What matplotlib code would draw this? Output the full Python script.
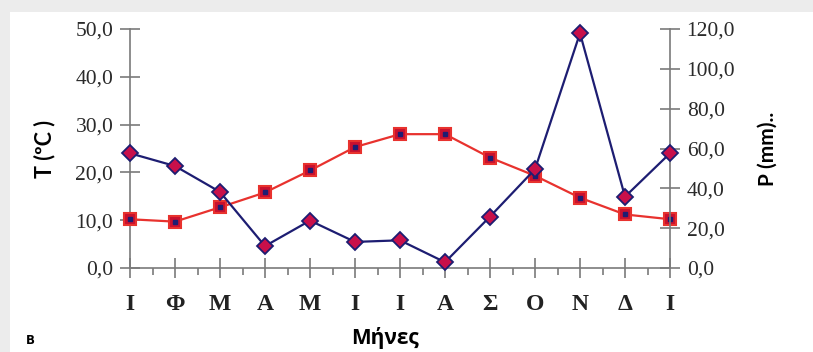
import matplotlib.pyplot as plt
from matplotlib.patches import Rectangle
import numpy as np

# monthly climate data (Jan..Dec, Jan again)
months = ['Ι', 'Φ', 'Μ', 'Α', 'Μ', 'Ι', 'Ι', 'Α', 'Σ', 'Ο', 'Ν', 'Δ', 'Ι']
temp = [10.2, 9.7, 12.7, 15.8, 20.4, 25.3, 28.0, 28.0, 23.1, 19.3, 14.7, 11.2, 10.2]
precip = [57.6, 51.2, 38.2, 11.0, 23.8, 13.1, 13.9, 2.9, 25.8, 49.6, 117.9, 35.8, 57.6]

W, H = 813, 352
fig = plt.figure(figsize=(W / 100, H / 100), dpi=100)
fig.patch.set_facecolor('#ececec')
fig.patches.append(Rectangle((10 / W, 0), 1, 1 - 12 / H, transform=fig.transFigure,
                             facecolor='white', edgecolor='none', zorder=-10))

ax = fig.add_axes([130 / W, 1 - 268 / H, 540 / W, 239 / H])
ax.set_facecolor('none')
ax2 = ax.twinx()

x = np.arange(len(months))
axis_col = '#7a7a7a'
red = '#e8322e'
navy = '#1d1d72'

# temperature
ax.plot(x, temp, color=red, lw=1.6, marker='s', ms=9, mfc='#c8102e', mec=red,
        mew=1.5, clip_on=False, zorder=3)
ax.plot(x, temp, ls='none', marker='s', ms=3, color=navy, clip_on=False, zorder=4)

# precipitation
ax2.plot(x, precip, color=navy, lw=1.6, marker='D', ms=8, mfc='#c8104a', mec=navy,
         mew=1.3, clip_on=False, zorder=3)

ax.set_xlim(0, 12)
ax.set_ylim(0, 50)
ax2.set_ylim(0, 120)

ax.set_yticks(np.arange(0, 51, 10))
ax.set_yticklabels([f'{v:.1f}'.replace('.', ',') for v in np.arange(0, 51, 10)])
ax2.set_yticks(np.arange(0, 121, 20))
ax2.set_yticklabels([f'{v:.1f}'.replace('.', ',') for v in np.arange(0, 121, 20)])

ax.set_xticks(x)
ax.set_xticklabels(months, fontfamily='Liberation Serif', fontweight='bold', fontsize=17)
ax.set_xticks(x[:-1] + 0.5, minor=True)

for a in (ax, ax2):
    for s in a.spines.values():
        s.set_color(axis_col)
        s.set_linewidth(1.2)
    a.spines['top'].set_visible(False)
    a.tick_params(axis='y', direction='inout', length=14, width=1.2, color=axis_col,
                  labelsize=15.5, labelcolor='#2a2a2a', pad=5)
    for lab in a.get_yticklabels():
        lab.set_fontfamily('Liberation Serif')
ax.spines['right'].set_visible(False)
ax2.spines['left'].set_visible(False)
ax2.spines['bottom'].set_visible(False)

ax.tick_params(axis='x', which='major', direction='inout', length=14, width=1.2,
               color=axis_col, pad=12, labelcolor='#222222')
ax.tick_params(axis='x', which='minor', direction='out', length=5, width=1.2,
               color=axis_col)

ax.set_ylabel('T (ºC )', fontsize=15.5, fontweight='bold', family='Lato')
ax.yaxis.set_label_coords((45 - 130) / 540, 0.5)
ax2.set_ylabel('P (mm)..', fontsize=15, fontweight='bold', family='Lato')
ax2.yaxis.set_label_coords((768 - 130) / 540, 0.5)
ax.set_xlabel('Μήνες', fontsize=15, fontweight='bold', family='Open Sans')
ax.xaxis.set_label_coords((385 - 130) / 540, -(338 - 268) / 239)
ax.xaxis.label.set_va('center')
ax.yaxis.label.set_va('center')
ax2.yaxis.label.set_va('center')

fig.text(30 / W, 1 - 340 / H, 'B', fontsize=8.5, fontweight='bold', ha='center', va='center')

fig.savefig('out.png', dpi=100)
